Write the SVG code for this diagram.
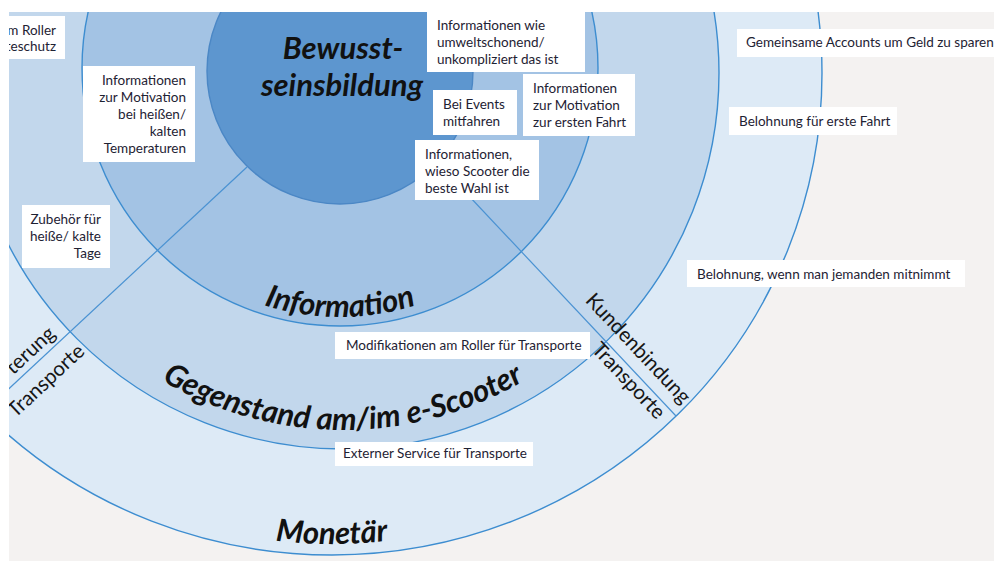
<svg xmlns="http://www.w3.org/2000/svg" width="994" height="563" viewBox="0 0 994 563">
<defs>
<clipPath id="area"><rect x="9" y="12" width="985" height="549"/></clipPath>
<path id="arcInfo" d="M 91 68 A 249 249 0 0 0 589 68"/>
<path id="arcGeg" d="M -14 73 A 357 357 0 0 0 700 73"/>
<path id="arcMon" d="M -139 73 A 471 471 0 0 0 803 73"/>
</defs>
<style>
.ring{stroke:#3d8dd0;stroke-width:1.4}
.box{fill:#ffffff}
.t{font-family:Lato,"Open Sans","Liberation Sans",sans-serif;font-size:13.5px;fill:#1e2233}
.r{text-anchor:end}
.h{font-family:Lato,"Open Sans","Liberation Sans",sans-serif;font-size:31px;font-style:italic;font-weight:700;fill:#111111}
.s{font-family:Lato,"Open Sans","Liberation Sans",sans-serif;font-size:20.5px;fill:#161616}
.div{stroke:#4a92d2;stroke-width:1.2;fill:none}
</style>
<rect width="994" height="563" fill="#ffffff"/>
<g clip-path="url(#area)">
<rect x="9" y="12" width="985" height="549" fill="#f4f2f1"/>
<g id="ring-monetaer"><ellipse cx="332" cy="73" rx="490" ry="482" fill="#ddeaf6" class="ring"/></g>
<g id="ring-gegenstand"><circle cx="343" cy="73" r="376" fill="#c2d7ec" class="ring"/></g>
<g id="ring-information"><circle cx="340" cy="68" r="258" fill="#a3c3e4" class="ring"/></g>
<g id="dividers" class="div">
<line x1="247" y1="167" x2="0" y2="397"/>
<line x1="437" y1="162" x2="676" y2="416"/>
</g>
<g id="core"><circle cx="340" cy="71" r="133" fill="#5d96cf" stroke="#4b87c5" stroke-width="1.4"/></g>

<g id="labels">
<text class="h" x="343" y="59" text-anchor="middle">Bewusst-</text>
<text class="h" x="342" y="96" text-anchor="middle">seinsbildung</text>
<text class="h" text-anchor="middle"><textPath href="#arcInfo" startOffset="50%">Information</textPath></text>
<text class="h" text-anchor="middle"><textPath href="#arcGeg" startOffset="50%">Gegenstand am/im e-Scooter</textPath></text>
<text class="h" text-anchor="middle"><textPath href="#arcMon" startOffset="50%">Monetär</textPath></text>
<g transform="translate(473,200) rotate(46.8)">
<text class="s" x="150" y="-12">Kundenbindung</text>
<text class="s" x="190" y="17">Transporte</text>
</g>
<g transform="translate(247,167) rotate(-43)">
<text class="s" x="-254" y="-7" text-anchor="end">terung</text>
<text class="s" x="-341" y="26">Transporte</text>
</g>
</g>

<g id="box-roller"><rect class="box" x="9" y="16" width="56" height="43"/>
<text class="t r" x="56" y="35">m Roller</text><text class="t r" x="56" y="51">teschutz</text></g>
<g id="box-motivation-temp"><rect class="box" x="83" y="66" width="112" height="96"/>
<text class="t r" x="186" y="85">Informationen</text><text class="t r" x="186" y="102">zur Motivation</text><text class="t r" x="186" y="119">bei heißen/</text><text class="t r" x="186" y="136">kalten</text><text class="t r" x="186" y="153">Temperaturen</text></g>
<g id="box-umwelt"><rect class="box" x="427" y="10" width="158" height="62"/>
<text class="t" x="437" y="30">Informationen wie</text><text class="t" x="437" y="47">umweltschonend/</text><text class="t" x="437" y="64">unkompliziert das ist</text></g>
<g id="box-events"><rect class="box" x="433" y="90" width="84" height="45"/>
<text class="t" x="443" y="109">Bei Events</text><text class="t" x="443" y="126">mitfahren</text></g>
<g id="box-erste-fahrt"><rect class="box" x="523" y="74" width="112" height="62"/>
<text class="t" x="533" y="93">Informationen</text><text class="t" x="533" y="110">zur Motivation</text><text class="t" x="533" y="127">zur ersten Fahrt</text></g>
<g id="box-wieso"><rect class="box" x="415" y="140" width="124" height="60"/>
<text class="t" x="425" y="159">Informationen,</text><text class="t" x="425" y="176">wieso Scooter die</text><text class="t" x="425" y="193">beste Wahl ist</text></g>
<g id="box-accounts"><rect class="box" x="737" y="29" width="257" height="28"/>
<text class="t" x="746" y="47">Gemeinsame Accounts um Geld zu sparen</text></g>
<g id="box-belohnung-erste"><rect class="box" x="729" y="107" width="168" height="28"/>
<text class="t" x="739" y="126">Belohnung für erste Fahrt</text></g>
<g id="box-belohnung-mitnimmt"><rect class="box" x="687" y="260" width="278" height="27"/>
<text class="t" x="697" y="279">Belohnung, wenn man jemanden mitnimmt</text></g>
<g id="box-zubehoer"><rect class="box" x="22" y="205" width="88" height="63"/>
<text class="t r" x="101" y="224">Zubehör für</text><text class="t r" x="101" y="241">heiße/ kalte</text><text class="t r" x="101" y="258">Tage</text></g>
<g id="box-modifikationen"><rect class="box" x="335" y="332" width="255" height="27"/>
<text class="t" x="346" y="350">Modifikationen am Roller für Transporte</text></g>
<g id="box-extern"><rect class="box" x="335" y="442" width="198" height="24"/>
<text class="t" x="343" y="458">Externer Service für Transporte</text></g>
</g>
</svg>
